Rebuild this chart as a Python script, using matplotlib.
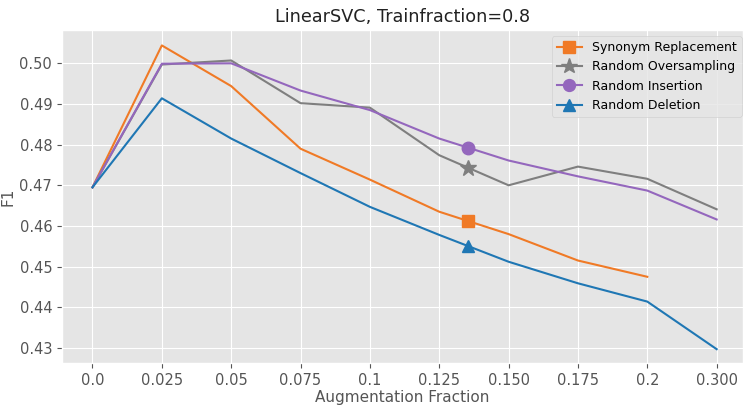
import numpy as np
import matplotlib
matplotlib.use("Agg")
import matplotlib.pyplot as plt

plt.style.use("ggplot")

# augmentation fractions (plotted as evenly spaced categories)
frac_labels = ["0.0", "0.025", "0.05", "0.075", "0.1", "0.125", "0.150", "0.175", "0.2", "0.300"]

synonym_replacement = [0.4695, 0.5044, 0.4944, 0.4790, 0.4714, 0.4635, 0.4580, 0.4515, 0.4475]
random_oversampling = [0.4695, 0.4997, 0.5007, 0.4902, 0.4891, 0.4774, 0.4700, 0.4746, 0.4716, 0.4641]
random_insertion = [0.4695, 0.4999, 0.5000, 0.4933, 0.4885, 0.4815, 0.4761, 0.4722, 0.4687, 0.4616]
random_deletion = [0.4695, 0.4914, 0.4815, 0.4730, 0.4647, 0.4578, 0.4512, 0.4459, 0.4414, 0.4297]

series = [
    ("Synonym Replacement", synonym_replacement, "#F07A26", "s"),
    ("Random Oversampling", random_oversampling, "#7f7f7f", "*"),
    ("Random Insertion", random_insertion, "#9467bd", "o"),
    ("Random Deletion", random_deletion, "#1f77b4", "^"),
]

MARK_AT = 5.415  # one marker per line, part way between 0.125 and 0.150

fig = plt.figure(figsize=(7.43, 4.09), dpi=100)
ax = fig.add_axes([0.0834, 0.1125, 0.9166, 0.8142])

for name, vals, col, mk in series:
    x = np.arange(len(vals), dtype=float)
    y = np.asarray(vals)
    k = int(np.searchsorted(x, MARK_AT))
    xs = np.insert(x, k, MARK_AT)
    ys = np.insert(y, k, np.interp(MARK_AT, x, y))
    ms = 12 if mk == "*" else 9
    ax.plot(xs, ys, color=col, lw=1.5, marker=mk, markevery=[k], markersize=ms, label=name)

ax.set_xticks(range(len(frac_labels)))
ax.set_xticklabels(frac_labels)
ax.set_yticks([0.43, 0.44, 0.45, 0.46, 0.47, 0.48, 0.49, 0.50])
ax.set_yticklabels([f"{v:.2f}" for v in ax.get_yticks()])
ax.tick_params(labelsize=10.5)
ax.set_xlim(-0.44, 9.38)
ax.set_ylim(0.4263, 0.5082)

ax.set_xlabel("Augmentation Fraction", fontsize=11, labelpad=2)
ax.set_ylabel("F1", fontsize=11, labelpad=3)
ax.set_title("LinearSVC, Trainfraction=0.8", fontsize=12.7, color="#222222")
ax.legend(loc="upper right", bbox_to_anchor=(1.007, 1.0), fontsize=9,
          markerscale=0.95, handlelength=2.0)

fig.savefig("out.png", dpi=100)
